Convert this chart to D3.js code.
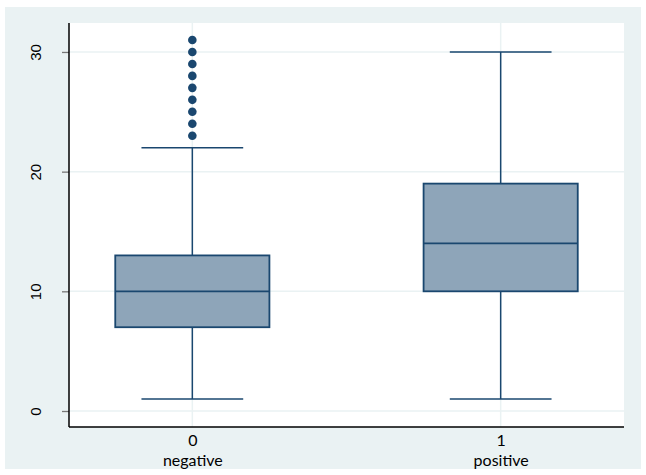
<!DOCTYPE html>
<html><head><meta charset="utf-8">
<script src="https://cdn.jsdelivr.net/npm/d3@7"></script>
<style>body{margin:0;background:#fff}svg{display:block}</style>
</head><body>
<script>
const categories = [0, 1];
const categoryLabels = ["negative", "positive"];
const q1 = [7, 10];
const medians = [10, 14];
const q3 = [13, 19];
const whiskerLow = [1, 1];
const whiskerHigh = [22, 30];
const outliers = [[23,24,25,26,27,28,29,30,31], []];
const yTicks = [0, 10, 20, 30];

const W = 646, H = 475;
const svg = d3.select("body").append("svg").attr("width", W).attr("height", H);
const navy = "#1a476f", bg = "#eaf2f3";

svg.append("rect").attr("x", 5).attr("y", 7).attr("width", 636).attr("height", 462).attr("fill", bg);
const L = 69, R = 624, T = 23, B = 427;
svg.append("rect").attr("x", L).attr("y", T).attr("width", R - L).attr("height", B - T).attr("fill", "#fff");

const x = d3.scaleLinear().domain([-0.4, 1.4]).range([L, R]);
const y = d3.scaleLinear().domain([-1.337, 32.42]).range([B, T]);

// gridlines
svg.append("g").selectAll("line").data(yTicks).join("line")
  .attr("x1", L).attr("x2", R).attr("y1", d => y(d)).attr("y2", d => y(d))
  .attr("stroke", bg).attr("stroke-width", 1.5);
svg.append("g").selectAll("line").data(categories).join("line")
  .attr("x1", d => x(d)).attr("x2", d => x(d)).attr("y1", T).attr("y2", B)
  .attr("stroke", bg).attr("stroke-width", 1.5);

const boxW = 0.5, capW = 0.33;
const g = svg.append("g");
categories.forEach((c, i) => {
  g.append("line").attr("x1", x(c)).attr("x2", x(c)).attr("y1", y(q3[i])).attr("y2", y(whiskerHigh[i]))
    .attr("stroke", navy).attr("stroke-width", 1.5);
  g.append("line").attr("x1", x(c)).attr("x2", x(c)).attr("y1", y(q1[i])).attr("y2", y(whiskerLow[i]))
    .attr("stroke", navy).attr("stroke-width", 1.5);
  [whiskerHigh[i], whiskerLow[i]].forEach(v => {
    g.append("line").attr("x1", x(c - capW / 2)).attr("x2", x(c + capW / 2)).attr("y1", y(v)).attr("y2", y(v))
      .attr("stroke", navy).attr("stroke-width", 1.5);
  });
  g.append("rect").attr("x", x(c - boxW / 2)).attr("width", x(c + boxW / 2) - x(c - boxW / 2))
    .attr("y", y(q3[i])).attr("height", y(q1[i]) - y(q3[i]))
    .attr("fill", "#8ea5b9").attr("stroke", navy).attr("stroke-width", 1.8);
  g.append("line").attr("x1", x(c - boxW / 2)).attr("x2", x(c + boxW / 2)).attr("y1", y(medians[i])).attr("y2", y(medians[i]))
    .attr("stroke", navy).attr("stroke-width", 1.8);
  g.selectAll(null).data(outliers[i]).join("circle")
    .attr("cx", x(c)).attr("cy", d => y(d)).attr("r", 4.3).attr("fill", navy);
});

// y axis
const yAxis = d3.axisLeft(y).tickValues(yTicks).tickSize(7).tickPadding(0).tickFormat(d3.format("d"));
const ya = svg.append("g").attr("transform", `translate(${L},0)`).call(yAxis);
ya.select(".domain").remove();
ya.selectAll(".tick line").attr("stroke", "#777").attr("stroke-width", 1.3);
ya.selectAll(".tick text").attr("transform", "rotate(-90)").attr("x", 0).attr("y", -32)
  .attr("dy", 0).attr("text-anchor", "middle").attr("dominant-baseline", "middle")
  .style("font-family", "'Liberation Sans', Arial, sans-serif").style("font-size", "15px").attr("fill", "#000");
svg.append("line").attr("x1", L).attr("x2", L).attr("y1", T).attr("y2", B).attr("stroke", "#000").attr("stroke-width", 1.5);

// x axis
const xAxis = d3.axisBottom(x).tickValues(categories).tickSize(0).tickPadding(0).tickFormat(d3.format("d"));
const xa = svg.append("g").attr("transform", `translate(0,${B})`).call(xAxis);
xa.select(".domain").remove();
xa.selectAll(".tick text").remove();
xa.selectAll(".tick").each(function(d, i) {
  const sel = d3.select(this);
  const st = t => t.attr("text-anchor", "middle").attr("fill", "#000")
    .style("font-family", "Lato, 'Open Sans', sans-serif").style("font-size", "16px");
  st(sel.append("text").attr("x", 0).attr("y", 19).text(d));
  st(sel.append("text").attr("x", 0).attr("y", 39).text(categoryLabels[i]));
});
svg.append("line").attr("x1", L).attr("x2", R).attr("y1", B).attr("y2", B).attr("stroke", "#000").attr("stroke-width", 1.5);
</script>
</body></html>
